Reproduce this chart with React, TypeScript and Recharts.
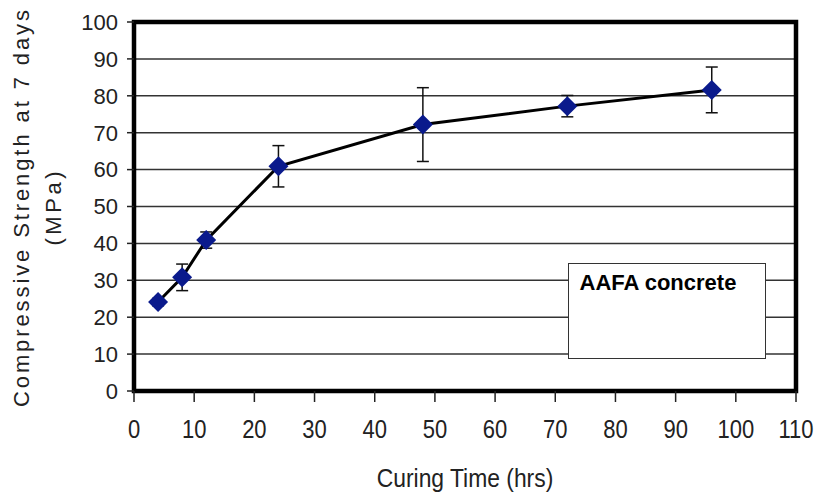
import React from "react"
import {
  LineChart,
  Line,
  XAxis,
  YAxis,
  CartesianGrid,
  ErrorBar,
  ReferenceArea,
} from "recharts"

// Curing time (hrs) and 7-day compressive strength (MPa) with scatter
const curingHours = [4, 8, 12, 24, 48, 72, 96]
const strengthMPa = [24.1, 30.8, 40.9, 60.9, 72.2, 77.2, 81.6]
const strengthError = [1, 3.6, 2.2, 5.6, 10, 2.9, 6.2]

const xTicks = [0, 10, 20, 30, 40, 50, 60, 70, 80, 90, 100, 110]
const yTicks = [0, 10, 20, 30, 40, 50, 60, 70, 80, 90, 100]

const FONT = "'Liberation Sans', Arial, Helvetica, sans-serif"
const TEXT = "#222"
const MARKER = "#0a1a8c"

const points = curingHours.map((h, i) => ({
  hours: h,
  strength: strengthMPa[i],
  err: strengthError[i],
}))

// Diamond marker centred on the point
const Diamond = (props: any) => {
  const { cx, cy } = props
  if (cx == null || cy == null) return null
  const r = 10
  return (
    <polygon
      points={`${cx},${cy - r} ${cx + r},${cy} ${cx},${cy + r} ${cx - r},${cy}`}
      fill={MARKER}
    />
  )
}

// x axis text is set in a tall, slightly condensed face
const XTick = (props: any) => {
  const { x, y, payload } = props
  return (
    <g transform={`translate(${x},${y}) scale(0.88,1)`}>
      <text
        x={0}
        y={0}
        dy="0.71em"
        textAnchor="middle"
        fill={TEXT}
        fontFamily={FONT}
        fontSize={25}
      >
        {payload.value}
      </text>
    </g>
  )
}

const YTitle = (props: any) => {
  const vb = props.viewBox || { x: 70, y: 22, width: 64, height: 369 }
  const cy = vb.y + vb.height / 2 + 2
  return (
    <g fill={TEXT} fontFamily={FONT} fontSize={22}>
      <text
        x={29}
        y={cy}
        transform={`rotate(-90 29 ${cy})`}
        textAnchor="middle"
        textLength={397}
        lengthAdjust="spacing"
      >
        Compressive Strength at 7 days
      </text>
      <text
        x={61}
        y={cy}
        transform={`rotate(-90 61 ${cy})`}
        textAnchor="middle"
        textLength={74}
        lengthAdjust="spacing"
      >
        (MPa)
      </text>
    </g>
  )
}

const XTitle = (props: any) => {
  const vb = props.viewBox || { x: 134, y: 391, width: 662, height: 60 }
  const cx = vb.x + vb.width / 2
  return (
    <g transform={`translate(${cx},${vb.y + 96}) scale(0.88,1)`}>
      <text
        x={0}
        y={0}
        textAnchor="middle"
        fill={TEXT}
        fontFamily={FONT}
        fontSize={26}
      >
        Curing Time (hrs)
      </text>
    </g>
  )
}

export default function App() {
  return (
    <div
      style={{
        position: "absolute",
        left: 0,
        top: 0,
        width: 817,
        height: 493,
        background: "#fff",
      }}
    >
      <LineChart
        width={817}
        height={493}
        data={points}
        margin={{ top: 22, right: 21, bottom: 42, left: 70 }}
      >
        <CartesianGrid
          vertical={false}
          stroke="#333"
          strokeWidth={1.5}
          horizontalValues={yTicks}
        />
        <XAxis
          dataKey="hours"
          type="number"
          domain={[0, 110]}
          ticks={xTicks}
          interval={0}
          height={60}
          axisLine={false}
          tickLine={{ stroke: TEXT, strokeWidth: 1.5 }}
          tickSize={11}
          tickMargin={18}
          tick={<XTick />}
          label={<XTitle />}
        />
        <YAxis
          type="number"
          domain={[0, 100]}
          ticks={yTicks}
          interval={0}
          width={64}
          axisLine={false}
          tickLine={{ stroke: TEXT, strokeWidth: 1.5 }}
          tickSize={7}
          tickMargin={9}
          tick={{ fontSize: 22, fill: TEXT, fontFamily: FONT }}
          label={<YTitle />}
        />
        <ReferenceArea
          x1={0}
          x2={110}
          y1={0}
          y2={100}
          fill="none"
          stroke="#000"
          strokeWidth={4.5}
          ifOverflow="visible"
        />
        <Line
          dataKey="strength"
          type="linear"
          stroke="#000"
          strokeWidth={3}
          dot={(p: any) => <Diamond key={`d-${p.index}`} {...p} />}
          activeDot={false}
          isAnimationActive={false}
        >
          <ErrorBar
            dataKey="err"
            direction="y"
            width={6}
            stroke="#111"
            strokeWidth={1.5}
          />
        </Line>
      </LineChart>
      <div
        style={{
          position: "absolute",
          left: 568,
          top: 263,
          width: 198,
          height: 96,
          boxSizing: "border-box",
          border: "1.5px solid #333",
          background: "#fff",
          padding: "8px 0 0 10.5px",
          fontFamily: FONT,
          fontSize: 22,
          lineHeight: "22px",
          fontWeight: "bold",
          color: "#000",
        }}
      >
        AAFA concrete
      </div>
    </div>
  )
}
